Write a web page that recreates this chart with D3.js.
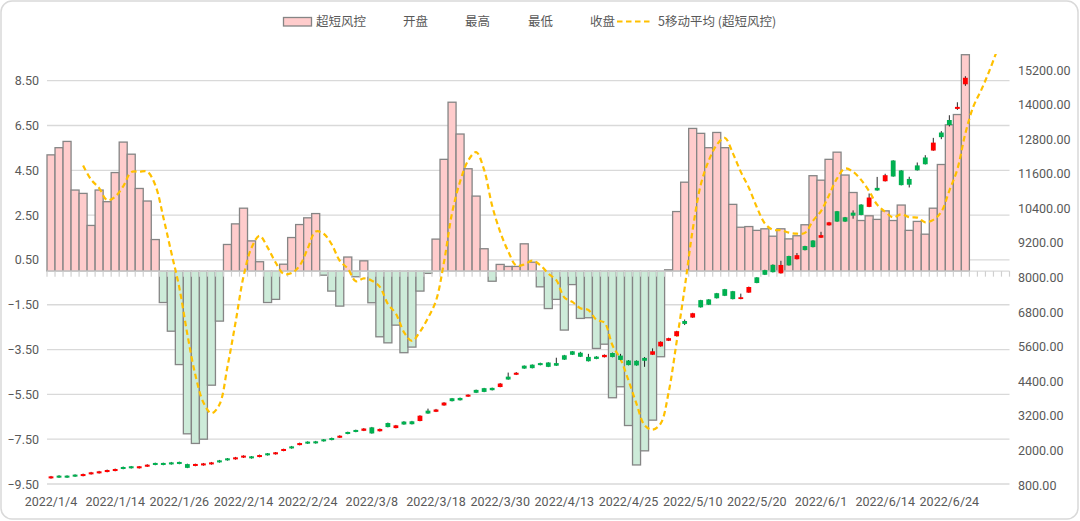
<!DOCTYPE html>
<html><head><meta charset="utf-8">
<script src="https://cdn.jsdelivr.net/npm/d3@7"></script>
<style>body{margin:0;background:#fff;}svg{display:block;}</style>
</head><body><svg id="c" width="1080" height="521"></svg>
<script>
// ---- data ----
const dates = ["1/4","1/5","1/6","1/7","1/10","1/11","1/12","1/13","1/14","1/17","1/18","1/19","1/20","1/21","1/24","1/25","1/26","1/27","1/28",
"2/7","2/8","2/9","2/10","2/11","2/14","2/15","2/16","2/17","2/18","2/21","2/22","2/23","2/24","2/25","2/28",
"3/1","3/2","3/3","3/4","3/7","3/8","3/9","3/10","3/11","3/14","3/15","3/16","3/17","3/18","3/21","3/22","3/23","3/24","3/25","3/28","3/29","3/30","3/31",
"4/1","4/6","4/7","4/8","4/11","4/12","4/13","4/14","4/15","4/18","4/19","4/20","4/21","4/22","4/25","4/26","4/27","4/28","4/29",
"5/5","5/6","5/9","5/10","5/11","5/12","5/13","5/16","5/17","5/18","5/19","5/20","5/23","5/24","5/25","5/26","5/27","5/30","5/31",
"6/1","6/2","6/6","6/7","6/8","6/9","6/10","6/13","6/14","6/15","6/16","6/17","6/20","6/21","6/22","6/23","6/24","6/27","6/28","6/29","6/30",
"7/1","7/4","7/5"].map(d => "2022/" + d);

const riskValues = [5.19,5.51,5.79,3.62,3.47,2.04,3.62,3.10,4.40,5.76,5.22,3.69,3.13,1.41,
-1.40,-2.68,-4.17,-7.26,-7.69,-7.50,-5.09,-2.23,
1.19,2.11,2.81,1.35,0.42,-1.40,-1.26,0.31,1.50,2.08,2.38,2.57,
-0.18,-0.89,-1.56,0.63,-0.25,0.46,
-1.41,-2.93,-3.20,-2.41,-3.64,-3.39,-0.89,-0.10,
1.43,4.99,7.54,6.12,4.57,3.35,1.00,-0.45,0.30,0.21,0.21,1.22,0.40,
-0.70,-1.67,-1.26,-2.63,-0.60,-2.11,-2.08,-3.45,-3.26,-5.65,-5.16,-6.89,-8.65,-8.02,-6.65,-3.82,
0.06,2.66,3.97,6.37,6.15,5.51,6.19,5.51,2.98,1.96,1.99,1.82,1.89,1.56,1.89,1.44,1.58,2.07,4.26,4.06,4.99,5.31,4.29,3.51,2.26,2.47,2.31,2.69,2.26,2.95,1.82,2.22,1.65,2.81,4.76,6.53,6.99,9.66];

const openVals = [1030,1125,1125,1160,1110,1170,1205,1250,1285,1425,1450,1380,1435,1565,1565,1585,1600,1525,1460,1480,1515,1655,1725,1690,1750,1795,1770,1900,1865,1980,
2140,2185,2305,2315,2385,2430,2440,2640,2710,2680,2800,2665,2950,2775,3000,3010,3020,3380,3340,3560,3810,3820,3865,4100,4160,4170,4200,4560,4625,4940,
4975,5030,5050,5030,5300,5440,5390,5245,5255,5235,5380,5290,5120,5110,5210,5320,5610,5805,5965,6490,6610,7215,7240,7455,7595,7525,7255,7475,8005,8255,
8440,8145,8745,8635,9090,9285,9380,9810,10300,10090,10250,10530,10450,11110,11340,12060,11715,11420,11890,12165,12405,13030,13465,13850,14705];
const closeVals = [1100,1055,1055,1090,1180,1240,1275,1320,1355,1355,1380,1450,1505,1495,1495,1515,1530,1395,1530,1550,1585,1585,1655,1760,1820,1725,1840,1830,1935,2050,
2070,2255,2235,2245,2315,2360,2510,2570,2640,2760,2590,2745,2810,2870,2900,2910,3205,3280,3420,3660,3710,3740,3935,4000,4030,4090,4320,4460,4695,4840,
4855,4960,4900,4940,5150,5320,5250,5095,5175,5315,5240,5140,4960,4950,5110,5440,5770,5895,6135,6390,6760,6965,7055,7280,7365,7250,7315,7670,7810,8095,
8185,8435,8420,8775,8950,9055,9470,9915,9940,9940,10145,10170,10775,11020,11550,11505,11205,11220,11720,11930,12680,12870,13290,13920,14930];
const highVals = [1115,1140,1135,1170,1195,1255,1290,1335,1370,1440,1460,1460,1520,1575,1575,1600,1610,1540,1540,1565,1600,1670,1735,1775,1830,1805,1855,1910,1945,2060,
2155,2270,2315,2330,2395,2445,2525,2650,2720,2775,2815,2760,2965,2885,3015,3025,3220,3450,3440,3675,3820,3835,3945,4110,4170,4180,4340,4700,4720,4950,
4985,5045,5060,5216,5315,5450,5420,5350,5270,5330,5395,5350,5135,5125,5240,5540,5785,5910,6150,6540,6775,7225,7250,7465,7605,7535,7440,7685,8015,8270,
8455,8580,8755,8850,9100,9295,9585,9930,10310,10100,10330,10545,10915,11490,11600,12070,11725,11495,11990,12245,12845,13080,13630,14080,14985];
const lowVals = [1020,1045,1045,1080,1100,1160,1195,1240,1275,1345,1370,1370,1425,1485,1485,1505,1520,1385,1450,1470,1505,1575,1645,1680,1740,1715,1760,1820,1855,1970,
2060,2175,2225,2235,2305,2350,2430,2560,2630,2670,2580,2655,2800,2765,2890,2900,3010,3270,3330,3550,3700,3730,3855,3990,4020,4080,4190,4450,4615,4830,
4845,4950,4890,4930,5140,5310,5240,5085,5165,5225,5230,5130,4950,4940,4900,5310,5600,5795,5955,6350,6600,6955,7045,7270,7355,7240,7245,7465,7800,8085,
8175,8135,8410,8625,8940,9045,9370,9800,9930,9930,10040,10160,10440,11010,11330,11495,11195,11125,11710,11920,12395,12800,13240,13815,14650];

// moving-average line beyond the last bar, as drawn in the picture
const maTail = [7.35, 8.1, 8.95, 9.9];
const maPeriod = 5;

const leftTicks = [-9.5,-7.5,-5.5,-3.5,-1.5,0.5,2.5,4.5,6.5,8.5];
const rightTicks = [800,2000,3200,4400,5600,6800,8000,9200,10400,11600,12800,14000,15200];
const labelEvery = 8;

const legendNames = ["超短风控","开盘","最高","最低","收盘","5移动平均 (超短风控)"];

// ---- layout ----
const svg = d3.select("#c");
const plotLeft = 47, plotRight = 1009.5, plotTop = 54, plotBottom = 484;
const textColor = "#595959", gridColor = "#d9d9d9";
const numFont = "Roboto, 'Liberation Sans', sans-serif";
const cjkFont = "'Noto Sans CJK SC', sans-serif";

const x = d3.scaleBand().domain(d3.range(dates.length)).range([plotLeft, plotRight]).padding(0);
const yL = d3.scaleLinear().domain([-9.5, 8.5]).range([484, 80.7]);
const yR = d3.scaleLinear().domain([800, 15200]).range([485, 70]);

// chart border
svg.append("rect").attr("x",1).attr("y",1).attr("width",1077).attr("height",518)
  .attr("rx",11).attr("fill","#fff").attr("stroke","#d9d9d9").attr("stroke-width",1.5);

// gridlines
svg.append("g").selectAll("line").data(leftTicks).join("line")
  .attr("x1",plotLeft).attr("x2",plotRight).attr("y1",d=>yL(d)).attr("y2",d=>yL(d))
  .attr("stroke",gridColor).attr("stroke-width",1.3);

// left axis labels
svg.append("g").selectAll("text").data(leftTicks).join("text")
  .attr("x",39).attr("y",d=>yL(d)+4.5).attr("text-anchor","end")
  .attr("font-family",numFont).attr("font-size",12.5).attr("fill",textColor)
  .text(d=>d3.format(".2f")(d));
// right axis labels
svg.append("g").selectAll("text").data(rightTicks).join("text")
  .attr("x",1018).attr("y",d=>yR(d)+4.5).attr("text-anchor","start")
  .attr("font-family",numFont).attr("font-size",12.5).attr("fill",textColor)
  .text(d=>d3.format(".2f")(d));

// bars
const bw = x.bandwidth();
svg.append("g").selectAll("rect").data(riskValues).join("rect")
  .attr("x",(d,i)=>x(i)).attr("width",bw)
  .attr("y",d=>Math.min(yL(d),yL(0))).attr("height",d=>Math.abs(yL(d)-yL(0)))
  .attr("fill",d=>d>=0?"#ffcccc":"#cdebd9")
  .attr("stroke","#858585").attr("stroke-width",1.3);

// category axis line + ticks at zero
const y0 = yL(0);
svg.append("line").attr("x1",plotLeft).attr("x2",plotRight).attr("y1",y0).attr("y2",y0)
  .attr("stroke","#d9d9d9").attr("stroke-width",1.3);
svg.append("g").selectAll("line").data(d3.range(dates.length+1)).join("line")
  .attr("x1",i=>plotLeft+i*bw).attr("x2",i=>plotLeft+i*bw).attr("y1",y0).attr("y2",y0+5.5)
  .attr("stroke","#d0d0d0").attr("stroke-width",1.2);

// x labels
svg.append("g").selectAll("text").data(dates.filter((d,i)=>i%labelEvery===0)).join("text")
  .attr("x",(d,k)=>x(k*labelEvery)+bw/2).attr("y",506).attr("text-anchor","middle")
  .attr("font-family",numFont).attr("font-size",12.5).attr("fill",textColor)
  .text(d=>d);

// moving average
const maPts = [];
for (let i = maPeriod-1; i < riskValues.length; i++) {
  maPts.push([i, d3.mean(riskValues.slice(i-maPeriod+1, i+1))]);
}
maTail.forEach((v,k)=>maPts.push([riskValues.length+k, v]));
svg.append("clipPath").attr("id","plotclip").append("rect")
  .attr("x",plotLeft).attr("y",plotTop).attr("width",plotRight-plotLeft).attr("height",plotBottom-plotTop);
svg.append("path").datum(maPts).attr("clip-path","url(#plotclip)")
  .attr("d",d3.line().x(d=>x(d[0])+bw/2).y(d=>yL(d[1])).curve(d3.curveCatmullRom.alpha(0.5)))
  .attr("fill","none").attr("stroke","#ffc000").attr("stroke-width",2.2).attr("stroke-dasharray","5.5,3.5");

// candlesticks
const candles = openVals.map((o,i)=>({i, o, h:highVals[i], l:lowVals[i], c:closeVals[i]}));
const cg = svg.append("g");
cg.selectAll("line").data(candles).join("line")
  .attr("x1",d=>x(d.i)+bw/2).attr("x2",d=>x(d.i)+bw/2)
  .attr("y1",d=>yR(d.h)).attr("y2",d=>yR(d.l))
  .attr("stroke","#262626").attr("stroke-width",1);
cg.selectAll("rect").data(candles).join("rect")
  .attr("x",d=>x(d.i)+bw/2-2.4).attr("width",4.8)
  .attr("y",d=>yR(Math.max(d.o,d.c)))
  .attr("height",d=>Math.max(1.8, Math.abs(yR(d.o)-yR(d.c))))
  .attr("fill",d=>d.c>=d.o?"#ff0000":"#00b050");

// legend
const lg = svg.append("g").attr("font-family",cjkFont).attr("font-size",12.5).attr("fill",textColor);
lg.append("rect").attr("x",283.5).attr("y",17.5).attr("width",28).attr("height",8.5)
  .attr("fill","#ffcccc").attr("stroke","#858585").attr("stroke-width",1.3);
const legendX = [316,403,465,528,590,658];
legendNames.forEach((n,k)=>{
  lg.append("text").attr("x",legendX[k]).attr("y",26).text(n);
});
lg.append("line").attr("x1",617).attr("x2",652).attr("y1",21.5).attr("y2",21.5)
  .attr("stroke","#ffc000").attr("stroke-width",2.2).attr("stroke-dasharray","5.5,3.5");
</script></body></html>
